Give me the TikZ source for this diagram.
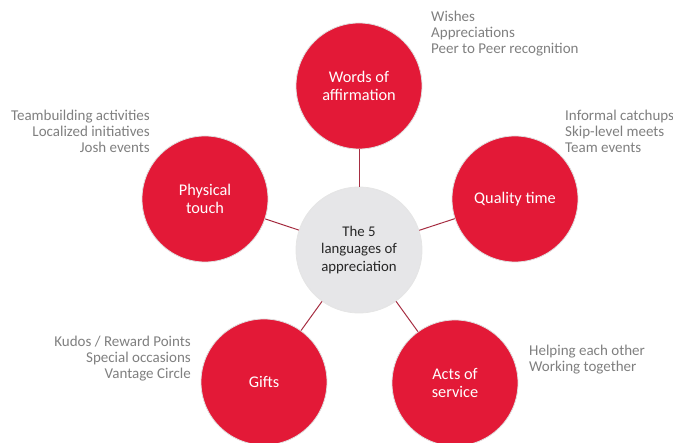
\documentclass[tikz,border=0pt]{standalone}
\usepackage{fontspec}
\setmainfont{Carlito}
\definecolor{petal}{HTML}{E31937}
\definecolor{hub}{HTML}{E6E6E8}
\definecolor{spoke}{HTML}{A62E42}
\definecolor{note}{HTML}{7F7F7F}
\definecolor{hubtext}{HTML}{262626}
\begin{document}
\begin{tikzpicture}[x=1pt,y=-1pt,
  petalnode/.style={circle, minimum size=126pt, inner sep=0pt, fill=petal,
    draw=gray!25, line width=0.8pt, text=white, align=center,
    font=\fontsize{16.3}{18}\selectfont},
  hubnode/.style={circle, minimum size=126pt, inner sep=0pt, fill=hub,
    draw=gray!20, line width=0.8pt, text=hubtext, align=center,
    font=\fontsize{14.8}{17.5}\selectfont},
  spokeline/.style={draw=spoke, line width=1pt},
  notes/.style={inner sep=0pt, text=note, font=\fontsize{15}{16}\selectfont}]
  \useasboundingbox (0,0) rectangle (673,443);

  % five languages arranged on a pentagon around the hub
  \node[hubnode] (hub) at (359,250) {The 5\\languages of\\appreciation};
  \node[petalnode] (words)    at (359,86)  {Words of\\affirmation};
  \node[petalnode] (quality)  at (515,199) {Quality time};
  \node[petalnode] (acts)     at (455,383) {Acts of\\service};
  \node[petalnode] (gifts)    at (264,382) {Gifts};
  \node[petalnode] (physical) at (205,199) {Physical\\touch};

  % spokes
  \foreach \p in {words,quality,acts,gifts,physical}
    \draw[spokeline] (hub) -- (\p);

  % examples next to each language
  \node[notes, align=left,  anchor=north west] (wordsnotes) at (431,10.6)
    {Wishes\\Appreciations\\Peer to Peer recognition};
  \node[notes, align=left,  anchor=north west] (qualitynotes) at (565,109.6)
    {Informal catchups\\Skip-level meets\\Team events};
  \node[notes, align=right, anchor=north east] (physicalnotes) at (150,109.6)
    {Teambuilding activities\\Localized initiatives\\Josh events};
  \node[notes, align=right, anchor=north east] (giftsnotes) at (191,335.6)
    {Kudos / Reward Points\\Special occasions\\Vantage Circle};
  \node[notes, align=left,  anchor=north west] (actsnotes) at (529,344.6)
    {Helping each other\\Working together};
\end{tikzpicture}
\end{document}
